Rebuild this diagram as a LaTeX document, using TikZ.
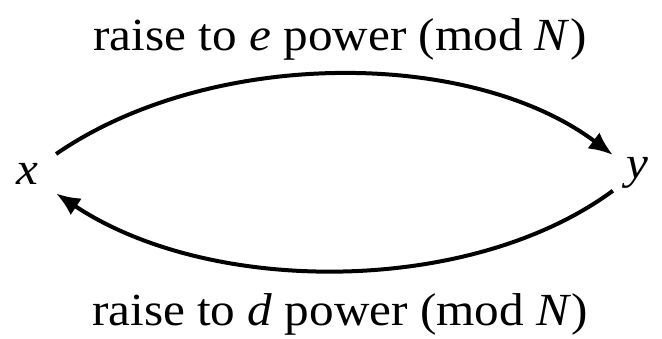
\documentclass[tikz,border=0pt]{standalone}
\usepackage{fontspec}
\setmainfont{Liberation Serif}[FakeStretch=1.07]
\usetikzlibrary{arrows.meta}
\begin{document}
\begin{tikzpicture}[x=1pt,y=-1pt,
  lbl/.style={font=\fontsize{46}{50}\selectfont, inner sep=0pt, anchor=base},
  var/.style={font=\fontsize{46}{50}\selectfont\itshape, inner sep=18pt},
  arc/.style={line width=4pt, -{Latex[length=24pt,width=20pt]}}]
\useasboundingbox (0,0) rectangle (662,338);
\node[var] (x) at (27,174) {x};
\node[var, inner sep=13pt] (y) at (637,173) {y};
\node[lbl] (top) at (340,50) {raise to \textit{e} power (mod \textit{N})};
\node[lbl] (bot) at (340,325) {raise to \textit{d} power (mod \textit{N})};
\draw[arc] (x) .. controls (210,48) and (470,48) .. (y);
\draw[arc] (y) .. controls (470,296) and (210,296) .. (x);
\end{tikzpicture}
\end{document}
